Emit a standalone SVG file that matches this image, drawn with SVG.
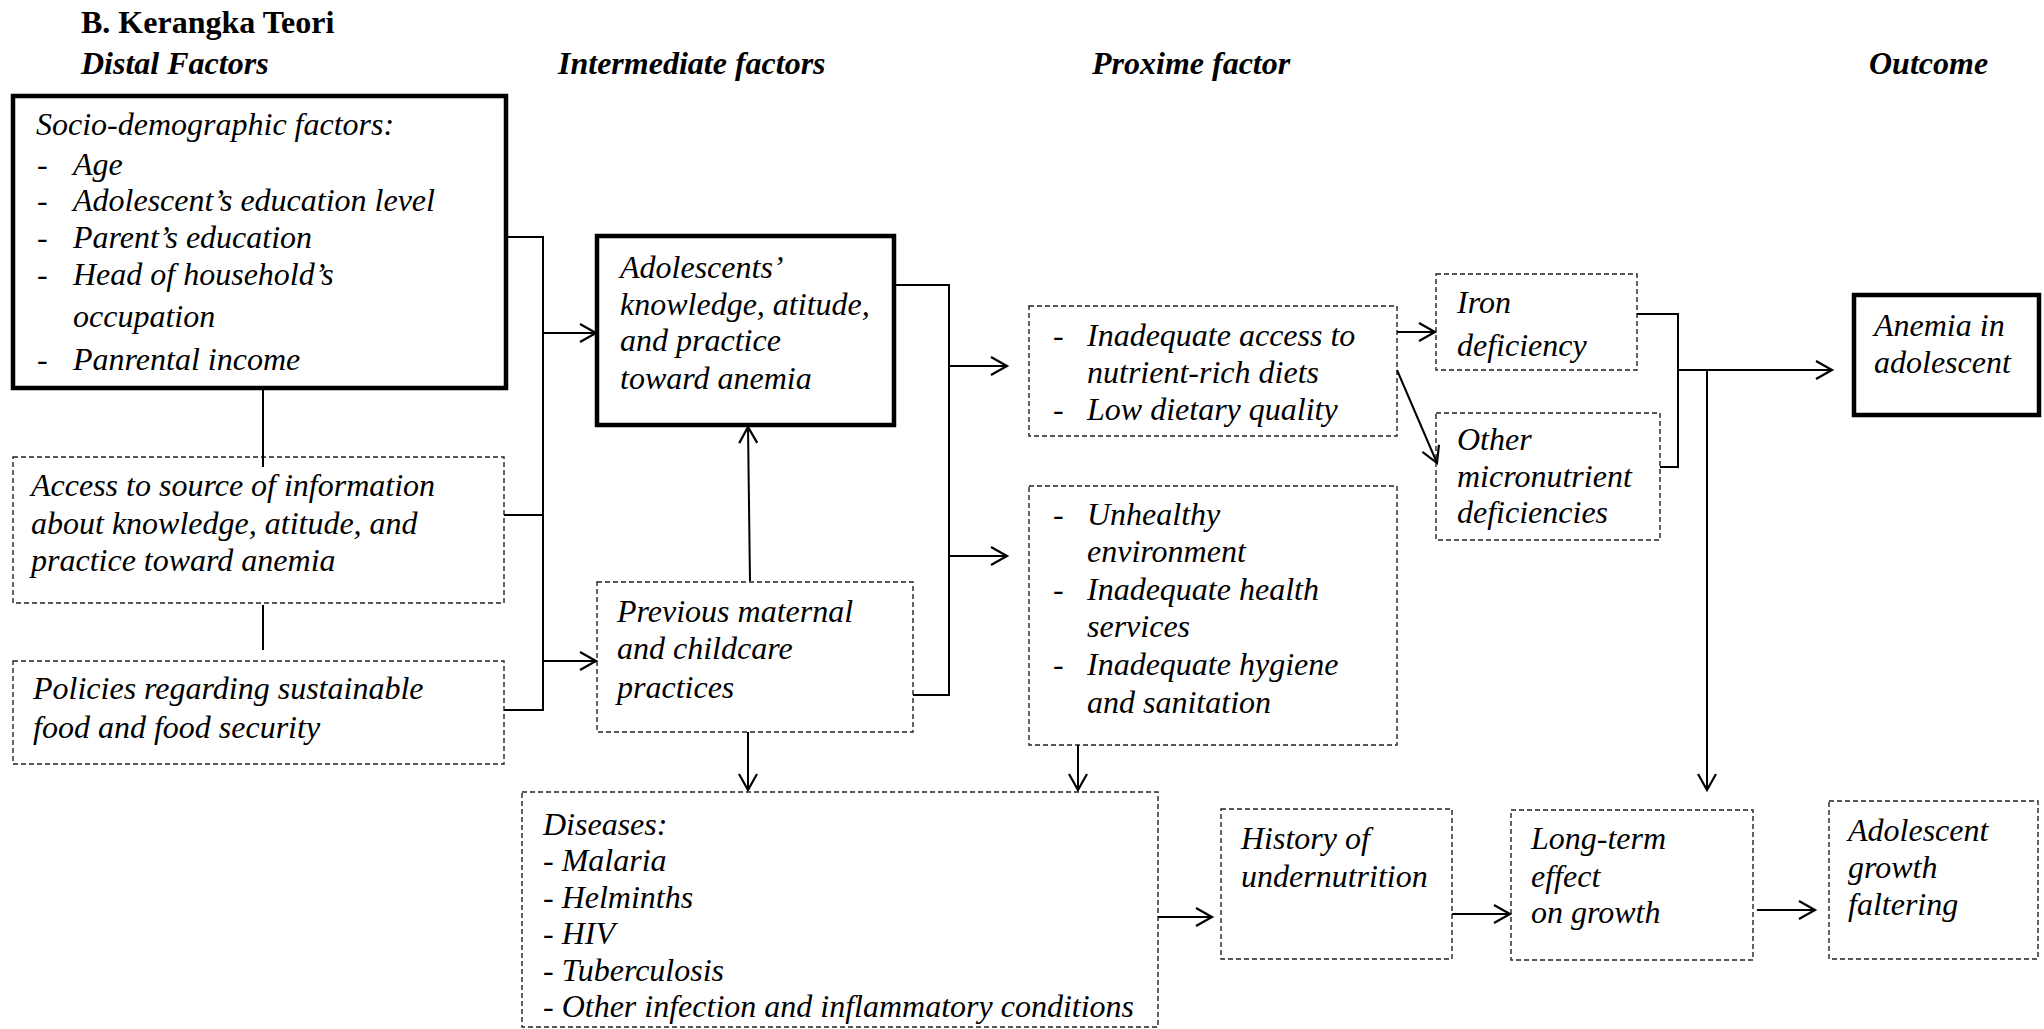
<svg xmlns="http://www.w3.org/2000/svg" width="2044" height="1029" viewBox="0 0 2044 1029">
<defs>
<style>
text{font-family:"Liberation Serif","Times New Roman",serif;font-size:32px;font-style:italic;fill:#000}
.title{font-weight:bold;font-style:normal}
.hdr{font-weight:bold;font-style:italic}
.thick{fill:none;stroke:#000;stroke-width:4.5}
.dash{fill:none;stroke:#222;stroke-width:1.4;stroke-dasharray:5 3}
.ln{fill:none;stroke:#000;stroke-width:2}
</style>
<marker id="arr" markerWidth="22" markerHeight="22" refX="17" refY="10" orient="auto" markerUnits="userSpaceOnUse">
<path d="M1,1 L17,10 L1,19" fill="none" stroke="#000" stroke-width="2.2"/>
</marker>
</defs>
<rect width="2044" height="1029" fill="#fff"/>

<g id="headers">
<text class="title" x="81" y="33">B. Kerangka Teori</text>
<text class="hdr" x="81" y="74">Distal Factors</text>
<text class="hdr" x="558" y="74">Intermediate factors</text>
<text class="hdr" x="1092" y="74">Proxime factor</text>
<text class="hdr" x="1869" y="74">Outcome</text>
</g>

<g id="socio">
<rect class="thick" x="13" y="96" width="493" height="292"/>
<text x="36" y="135">Socio-demographic factors:</text>
<text x="37" y="175">-</text><text x="73" y="175">Age</text>
<text x="37" y="211">-</text><text x="73" y="211">Adolescent’s education level</text>
<text x="37" y="248">-</text><text x="73" y="248">Parent’s education</text>
<text x="37" y="285">-</text><text x="73" y="285">Head of household’s</text>
<text x="73" y="327">occupation</text>
<text x="37" y="370">-</text><text x="73" y="370">Panrental income</text>
</g>

<g id="access">
<rect class="dash" x="13" y="457" width="491" height="146"/>
<text x="31" y="496">Access to source of information</text>
<text x="31" y="534">about knowledge, atitude, and</text>
<text x="31" y="571">practice toward anemia</text>
</g>

<g id="policies">
<rect class="dash" x="13" y="661" width="491" height="103"/>
<text x="33" y="699">Policies regarding sustainable</text>
<text x="33" y="738">food and food security</text>
</g>

<g id="kap">
<rect class="thick" x="597" y="236" width="297" height="189"/>
<text x="620" y="278">Adolescents’</text>
<text x="620" y="315">knowledge, atitude,</text>
<text x="620" y="351">and practice</text>
<text x="620" y="389">toward anemia</text>
</g>

<g id="previous">
<rect class="dash" x="597" y="582" width="316" height="150"/>
<text x="617" y="622">Previous maternal</text>
<text x="617" y="659">and childcare</text>
<text x="617" y="698">practices</text>
</g>

<g id="diet">
<rect class="dash" x="1029" y="306" width="368" height="130"/>
<text x="1053" y="346">-</text><text x="1087" y="346">Inadequate access to</text>
<text x="1087" y="383">nutrient-rich diets</text>
<text x="1053" y="420">-</text><text x="1087" y="420">Low dietary quality</text>
</g>

<g id="environment">
<rect class="dash" x="1029" y="486" width="368" height="259"/>
<text x="1053" y="525">-</text><text x="1087" y="525">Unhealthy</text>
<text x="1087" y="562">environment</text>
<text x="1053" y="600">-</text><text x="1087" y="600">Inadequate health</text>
<text x="1087" y="637">services</text>
<text x="1053" y="675">-</text><text x="1087" y="675">Inadequate hygiene</text>
<text x="1087" y="713">and sanitation</text>
</g>

<g id="iron">
<rect class="dash" x="1436" y="274" width="201" height="96"/>
<text x="1457" y="313">Iron</text>
<text x="1457" y="356">deficiency</text>
</g>

<g id="micronutrient">
<rect class="dash" x="1436" y="413" width="224" height="127"/>
<text x="1457" y="450">Other</text>
<text x="1457" y="487">micronutrient</text>
<text x="1457" y="523">deficiencies</text>
</g>

<g id="anemia">
<rect class="thick" x="1854" y="295" width="185" height="120"/>
<text x="1874" y="336">Anemia in</text>
<text x="1874" y="373">adolescent</text>
</g>

<g id="diseases">
<rect class="dash" x="522" y="792" width="636" height="235"/>
<text x="543" y="835">Diseases:</text>
<text x="543" y="871">- Malaria</text>
<text x="543" y="908">- Helminths</text>
<text x="543" y="944">- HIV</text>
<text x="543" y="981">- Tuberculosis</text>
<text x="543" y="1017">- Other infection and inflammatory conditions</text>
</g>

<g id="history">
<rect class="dash" x="1221" y="809" width="231" height="150"/>
<text x="1241" y="849">History of</text>
<text x="1241" y="887">undernutrition</text>
</g>

<g id="longterm">
<rect class="dash" x="1511" y="810" width="242" height="150"/>
<text x="1531" y="849">Long-term</text>
<text x="1531" y="887">effect</text>
<text x="1531" y="923">on growth</text>
</g>

<g id="faltering">
<rect class="dash" x="1829" y="801" width="209" height="158"/>
<text x="1848" y="841">Adolescent</text>
<text x="1848" y="878">growth</text>
<text x="1848" y="915">faltering</text>
</g>

<g id="connectors">
<line class="ln" x1="263" y1="388" x2="263" y2="467"/>
<line class="ln" x1="263" y1="605" x2="263" y2="650"/>
<polyline class="ln" points="506,237 543,237 543,710 504,710"/>
<line class="ln" x1="504" y1="515" x2="543" y2="515"/>
<line class="ln" x1="543" y1="333" x2="596" y2="333" marker-end="url(#arr)"/>
<line class="ln" x1="543" y1="661" x2="596" y2="661" marker-end="url(#arr)"/>
<line class="ln" x1="750" y1="581" x2="748" y2="427" marker-end="url(#arr)"/>
<polyline class="ln" points="894,285 949,285 949,695 913,695"/>
<line class="ln" x1="949" y1="366" x2="1007" y2="366" marker-end="url(#arr)"/>
<line class="ln" x1="949" y1="556" x2="1007" y2="556" marker-end="url(#arr)"/>
<line class="ln" x1="1397" y1="332" x2="1435" y2="332" marker-end="url(#arr)"/>
<line class="ln" x1="1397" y1="370" x2="1437" y2="463" marker-end="url(#arr)"/>
<polyline class="ln" points="1637,314 1678,314 1678,467 1660,467"/>
<line class="ln" x1="1678" y1="370" x2="1832" y2="370" marker-end="url(#arr)"/>
<line class="ln" x1="1707" y1="370" x2="1707" y2="790" marker-end="url(#arr)"/>
<line class="ln" x1="748" y1="732" x2="748" y2="790" marker-end="url(#arr)"/>
<line class="ln" x1="1078" y1="745" x2="1078" y2="790" marker-end="url(#arr)"/>
<line class="ln" x1="1158" y1="917" x2="1212" y2="917" marker-end="url(#arr)"/>
<line class="ln" x1="1452" y1="914" x2="1510" y2="914" marker-end="url(#arr)"/>
<line class="ln" x1="1757" y1="910" x2="1815" y2="910" marker-end="url(#arr)"/>
</g>
</svg>
